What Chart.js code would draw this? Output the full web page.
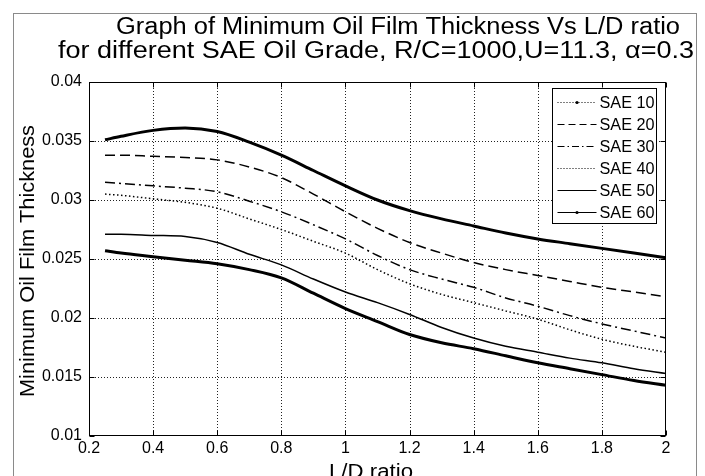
<!DOCTYPE html>
<html>
<head>
<meta charset="utf-8">
<script src="https://cdn.jsdelivr.net/npm/chart.js@4.4.0/dist/chart.umd.min.js"></script>
<style>
  body { margin: 0; background: #fff; }
  canvas { display: block; }
</style>
</head>
<body>
<canvas id="myChart" width="705" height="476"></canvas>
<script>
// L/D ratio values (x)
let ldRatio = [0.25, 0.3, 0.4, 0.5, 0.6, 0.7, 0.8, 0.9, 1.0, 1.1, 1.2, 1.3, 1.4, 1.5, 1.6, 1.7, 1.8, 1.9, 2.0];

// minimum oil film thickness
let sae10 = [0.0351, 0.0354, 0.0359, 0.0361, 0.0358, 0.0349, 0.0338, 0.0325, 0.0312, 0.0300, 0.0291, 0.0284, 0.0278, 0.0272, 0.0267, 0.0263, 0.0259, 0.0255, 0.0251];
let sae20 = [0.0338, 0.0338, 0.0337, 0.0336, 0.0334, 0.0328, 0.0319, 0.0305, 0.0290, 0.0276, 0.0264, 0.0255, 0.0247, 0.0241, 0.0236, 0.0231, 0.0226, 0.0222, 0.0218];
let sae30 = [0.0315, 0.0314, 0.0312, 0.0310, 0.0307, 0.0299, 0.0290, 0.0279, 0.0267, 0.0253, 0.0241, 0.0233, 0.0226, 0.0217, 0.0210, 0.0202, 0.0195, 0.0189, 0.0183];
let sae40 = [0.0305, 0.0304, 0.0301, 0.0298, 0.0293, 0.0284, 0.0275, 0.0265, 0.0255, 0.0241, 0.0229, 0.0220, 0.0213, 0.0206, 0.0199, 0.0190, 0.0182, 0.0176, 0.0171];
let sae50 = [0.0271, 0.0271, 0.0270, 0.0269, 0.0264, 0.0254, 0.0245, 0.0233, 0.0222, 0.0213, 0.0203, 0.0192, 0.0183, 0.0176, 0.0171, 0.0166, 0.0162, 0.0157, 0.0153];
let sae60 = [0.0257, 0.0255, 0.0252, 0.0249, 0.0246, 0.0241, 0.0234, 0.0221, 0.0208, 0.0197, 0.0186, 0.0179, 0.0174, 0.0168, 0.0162, 0.0157, 0.0152, 0.0147, 0.0143];

let seriesNames = ['SAE 10', 'SAE 20', 'SAE 30', 'SAE 40', 'SAE 50', 'SAE 60'];

let xTicks = [0.2, 0.4, 0.6, 0.8, 1, 1.2, 1.4, 1.6, 1.8, 2];
let yTicks = [0.01, 0.015, 0.02, 0.025, 0.03, 0.035, 0.04];

const FONT = '"Liberation Sans", Arial, Helvetica, sans-serif';

function pts(vals) {
    return ldRatio.map((x, i) => ({ x: x, y: vals[i] }));
}

// line styles for the curves and their legend samples
const styles = [
    { w: 3,   dash: [],             lDash: [1, 2],         marker: true  },
    { w: 1.5, dash: [10, 5],        lDash: [7, 4],         marker: false },
    { w: 1.5, dash: [10, 4, 2, 4],  lDash: [7, 3, 1.5, 3], marker: false },
    { w: 1.5, dash: [1.5, 2.5],     lDash: [1, 2],         marker: false },
    { w: 1.5, dash: [],             lDash: [],             marker: false },
    { w: 3,   dash: [],             lDash: [],             marker: true  }
];

const allSeries = [sae10, sae20, sae30, sae40, sae50, sae60];

// stretched text (the picture's lettering is wider than Arial)
function wideText(ctx, text, x, y, targetW) {
    const w = ctx.measureText(text).width;
    ctx.save();
    ctx.translate(x, y);
    ctx.scale(targetW / w, 1);
    ctx.textAlign = 'center';
    ctx.fillText(text, 0, 0);
    ctx.restore();
}

const decor = {
    id: 'decor',
    beforeDraw(chart) {
        const ctx = chart.ctx;
        ctx.save();
        ctx.fillStyle = '#fff';
        ctx.fillRect(0, 0, chart.width, chart.height);
        ctx.strokeStyle = '#8a8a8a';
        ctx.lineWidth = 1;
        ctx.strokeRect(13.5, 13.5, 683, 480);
        ctx.restore();
    },
    beforeDatasetsDraw(chart) {
        // dotted grid
        const ctx = chart.ctx;
        const a = chart.chartArea;
        const xs = chart.scales.x, ys = chart.scales.y;
        ctx.save();
        ctx.strokeStyle = '#222';
        ctx.lineWidth = 1;
        ctx.setLineDash([1, 2]);
        xTicks.slice(1, -1).forEach(v => {
            const px = Math.round(xs.getPixelForValue(v)) + 0.5;
            ctx.beginPath();
            ctx.moveTo(px, a.top);
            ctx.lineTo(px, a.bottom);
            ctx.stroke();
        });
        yTicks.slice(1, -1).forEach(v => {
            const py = Math.round(ys.getPixelForValue(v)) + 0.5;
            ctx.beginPath();
            ctx.moveTo(a.left, py);
            ctx.lineTo(a.right, py);
            ctx.stroke();
        });
        ctx.restore();
    },
    afterDraw(chart) {
        const ctx = chart.ctx;
        const a = chart.chartArea;
        const xs = chart.scales.x, ys = chart.scales.y;
        ctx.save();
        // axes box and inward ticks
        ctx.strokeStyle = '#000';
        ctx.lineWidth = 1;
        ctx.setLineDash([]);
        const L = Math.round(a.left) + 0.5, R = Math.round(a.right) - 0.5;
        const T = Math.round(a.top) + 0.5, B = Math.round(a.bottom) - 0.5;
        ctx.strokeRect(L, T, R - L, B - T);
        ctx.beginPath();
        xTicks.forEach(v => {
            const px = Math.round(xs.getPixelForValue(v)) + 0.5;
            ctx.moveTo(px, B); ctx.lineTo(px, B - 5);
            ctx.moveTo(px, T); ctx.lineTo(px, T + 5);
        });
        yTicks.forEach(v => {
            const py = Math.round(ys.getPixelForValue(v)) + 0.5;
            ctx.moveTo(L, py); ctx.lineTo(L + 5, py);
            ctx.moveTo(R, py); ctx.lineTo(R - 5, py);
        });
        ctx.stroke();

        // legend
        const bx = R - 113, by = T + 6, bw = 104, bh = 135;
        ctx.fillStyle = '#fff';
        ctx.fillRect(bx, by, bw, bh);
        ctx.strokeRect(bx, by, bw, bh);
        ctx.font = '16px ' + FONT;
        ctx.textBaseline = 'middle';
        ctx.textAlign = 'left';
        seriesNames.forEach((name, i) => {
            const st = styles[i];
            const yy = Math.round(by + 13.5 + i * 22) + 0.5;
            ctx.strokeStyle = '#000';
            ctx.lineWidth = 1;
            ctx.setLineDash(st.lDash);
            ctx.beginPath();
            ctx.moveTo(bx + 5, yy);
            ctx.lineTo(bx + 44, yy);
            ctx.stroke();
            ctx.setLineDash([]);
            if (st.marker) {
                ctx.fillStyle = '#000';
                ctx.beginPath();
                ctx.arc(bx + 24.5, yy, 1.6, 0, Math.PI * 2);
                ctx.fill();
            }
            ctx.fillStyle = '#000';
            wideText(ctx, name, bx + 47 + 27.5, yy + 1, 55);
        });

        // titles
        ctx.fillStyle = '#000';
        ctx.textBaseline = 'alphabetic';
        ctx.font = '23px ' + FONT;
        wideText(ctx, 'Graph of Minimum Oil Film Thickness Vs L/D ratio', 398, 34, 564);
        wideText(ctx, 'for different SAE Oil Grade, R/C=1000,U=11.3, \u03b1=0.3', 376, 58, 636);

        ctx.font = '20px ' + FONT;
        wideText(ctx, 'L/D ratio', 371, 478, 84);

        ctx.save();
        ctx.translate(34, 261);
        ctx.rotate(-Math.PI / 2);
        wideText(ctx, 'Minimum Oil Film Thickness', 0, 0, 272);
        ctx.restore();

        ctx.restore();
    }
};

function chart() {
    const ctx = document.getElementById('myChart');
    new Chart(ctx, {
        type: 'scatter',
        data: {
            datasets: allSeries.map((vals, i) => ({
                label: seriesNames[i],
                data: pts(vals),
                showLine: true,
                borderColor: '#000',
                backgroundColor: '#000',
                borderWidth: styles[i].w,
                borderDash: styles[i].dash,
                pointRadius: 0,
                cubicInterpolationMode: 'monotone',
                fill: false
            }))
        },
        options: {
            responsive: false,
            animation: false,
            events: [],
            layout: { padding: { left: 0, top: 82, right: 39, bottom: 0 } },
            plugins: {
                legend: { display: false },
                title: { display: false },
                tooltip: { enabled: false }
            },
            scales: {
                x: {
                    type: 'linear',
                    min: 0.2,
                    max: 2,
                    afterBuildTicks: s => { s.ticks = xTicks.map(v => ({ value: v })); },
                    afterFit: s => { s.height = 40; },
                    grid: { display: false, drawTicks: false },
                    border: { display: false },
                    ticks: {
                        color: '#000',
                        padding: 3,
                        maxRotation: 0,
                        autoSkip: false,
                        font: { family: FONT, size: 16 },
                        callback: v => String(v)
                    }
                },
                y: {
                    type: 'linear',
                    min: 0.01,
                    max: 0.04,
                    afterBuildTicks: s => { s.ticks = yTicks.map(v => ({ value: v })); },
                    afterFit: s => { s.width = 89; },
                    grid: { display: false, drawTicks: false },
                    border: { display: false },
                    ticks: {
                        color: '#000',
                        padding: 7,
                        autoSkip: false,
                        font: { family: FONT, size: 16 },
                        callback: v => String(v)
                    }
                }
            }
        },
        plugins: [decor]
    });
}

chart();
</script>
</body>
</html>
